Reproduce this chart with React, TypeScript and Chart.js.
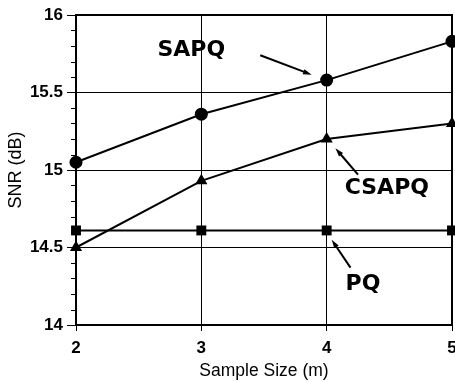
import React, { useEffect, useRef } from "react";
import { Chart, registerables } from "chart.js";
Chart.register(...registerables);

const sampleSizes = [2, 3, 4, 5];
const sapq = [15.05, 15.36, 15.58, 15.83];
const csapq = [14.5, 14.93, 15.2, 15.3];
const pq = [14.61, 14.61, 14.61, 14.61];

// annotations: [label, textX, textY, arrowTailX, arrowTailY, arrowTipX, arrowTipY] in data units
const annotations: [string, number, number, number, number, number, number][] = [
  ["SAPQ", 2.92, 15.77, 3.47, 15.74, 3.88, 15.615],
  ["CSAPQ", 4.48, 14.88, 4.25, 14.97, 4.07, 15.14],
  ["PQ", 4.29, 14.26, 4.19, 14.37, 4.04, 14.55],
];

const FONT = "Arial, 'Liberation Sans', sans-serif";

const isMajor = (v: number) => Math.abs(v * 2 - Math.round(v * 2)) < 1e-6;

const framePlugin = {
  id: "frame",
  beforeDatasetsDraw(chart: any) {
    const { ctx, chartArea: a } = chart;
    ctx.save();
    ctx.strokeStyle = "#000";
    ctx.lineWidth = 2;
    ctx.strokeRect(a.left, a.top, a.right - a.left, a.bottom - a.top);
    const y = chart.scales.y;
    ctx.lineWidth = 1;
    y.ticks.forEach((t: any) => {
      if (!isMajor(t.value)) {
        const py = Math.round(y.getPixelForValue(t.value)) + 0.5;
        ctx.beginPath();
        ctx.moveTo(a.left - 5, py);
        ctx.lineTo(a.left, py);
        ctx.stroke();
      }
    });
    ctx.restore();
  },
  afterDatasetsDraw(chart: any) {
    const { ctx } = chart;
    const xs = chart.scales.x;
    const ys = chart.scales.y;
    ctx.save();
    ctx.fillStyle = "#000";
    ctx.strokeStyle = "#000";
    ctx.font = "bold 22px 'DejaVu Sans', sans-serif";
    ctx.textAlign = "center";
    ctx.textBaseline = "middle";
    annotations.forEach(([label, tx, ty, ax, ay, bx, by]) => {
      ctx.fillText(label, xs.getPixelForValue(tx), ys.getPixelForValue(ty));
      const x1 = xs.getPixelForValue(ax), y1 = ys.getPixelForValue(ay);
      const x2 = xs.getPixelForValue(bx), y2 = ys.getPixelForValue(by);
      const ang = Math.atan2(y2 - y1, x2 - x1);
      const hl = 9;
      ctx.lineWidth = 2;
      ctx.beginPath();
      ctx.moveTo(x1, y1);
      ctx.lineTo(x2 - Math.cos(ang) * hl * 0.8, y2 - Math.sin(ang) * hl * 0.8);
      ctx.stroke();
      ctx.beginPath();
      ctx.moveTo(x2, y2);
      ctx.lineTo(x2 - hl * Math.cos(ang - 0.3), y2 - hl * Math.sin(ang - 0.3));
      ctx.lineTo(x2 - hl * Math.cos(ang + 0.3), y2 - hl * Math.sin(ang + 0.3));
      ctx.closePath();
      ctx.fill();
    });
    ctx.restore();
  },
};

export default function App() {
  const ref = useRef<HTMLCanvasElement>(null);
  useEffect(() => {
    document.body.style.margin = "0";
    const mk = (vals: number[]) => sampleSizes.map((x, i) => ({ x, y: vals[i] }));
    const common = {
      borderColor: "#000",
      backgroundColor: "#000",
      borderWidth: 2,
      pointBorderWidth: 0,
      clip: false as any,
      tension: 0,
    };
    const chart = new Chart(ref.current!, {
      type: "line",
      data: {
        datasets: [
          { ...common, label: "SAPQ", data: mk(sapq), pointStyle: "circle", pointRadius: 6.5 },
          { ...common, label: "CSAPQ", data: mk(csapq), pointStyle: "triangle", pointRadius: 7 },
          { ...common, label: "PQ", data: mk(pq), pointStyle: "rect", pointRadius: 7 },
        ],
      },
      options: {
        animation: false,
        responsive: false,
        layout: { autoPadding: false, padding: { top: 15, right: 3, left: 0, bottom: 0 } },
        plugins: { legend: { display: false }, tooltip: { enabled: false } },
        scales: {
          x: {
            type: "linear",
            min: 2,
            max: 5,
            afterFit: (s: any) => { s.height = 57; s.paddingLeft = 0; s.paddingRight = 0; },
            ticks: { stepSize: 1, color: "#000", font: { family: FONT, size: 17, weight: "bold" }, padding: 7 },
            grid: { color: "#000", lineWidth: 1, tickLength: 6, tickColor: "#000" },
            border: { display: false },
            title: { display: true, text: "Sample Size (m)", color: "#000", font: { family: FONT, size: 17.5 }, padding: { top: 2, bottom: 0 } },
          },
          y: {
            min: 14,
            max: 16,
            afterFit: (s: any) => { s.width = 76; s.paddingTop = 0; s.paddingBottom = 0; },
            ticks: {
              stepSize: 0.1,
              autoSkip: false,
              color: "#000",
              font: { family: FONT, size: 17, weight: "bold" },
              padding: 4,
              callback: (v: any) => (isMajor(Number(v)) ? String(Math.round(Number(v) * 10) / 10) : ""),
            },
            grid: {
              color: (c: any) => (isMajor(c.tick.value) ? "#000" : "rgba(0,0,0,0)"),
              tickColor: (c: any) => (isMajor(c.tick.value) ? "#000" : "rgba(0,0,0,0)"),
              lineWidth: 1,
              tickLength: 9,
            },
            border: { display: false },
            title: { display: true, text: "SNR (dB)", color: "#000", font: { family: FONT, size: 18 }, padding: { top: 5, bottom: 2 } },
          },
        },
      },
      plugins: [framePlugin],
    });
    return () => chart.destroy();
  }, []);
  return (
    <div style={{ width: 455, height: 382, background: "#fff" }}>
      <canvas ref={ref} width={455} height={382} />
    </div>
  );
}
